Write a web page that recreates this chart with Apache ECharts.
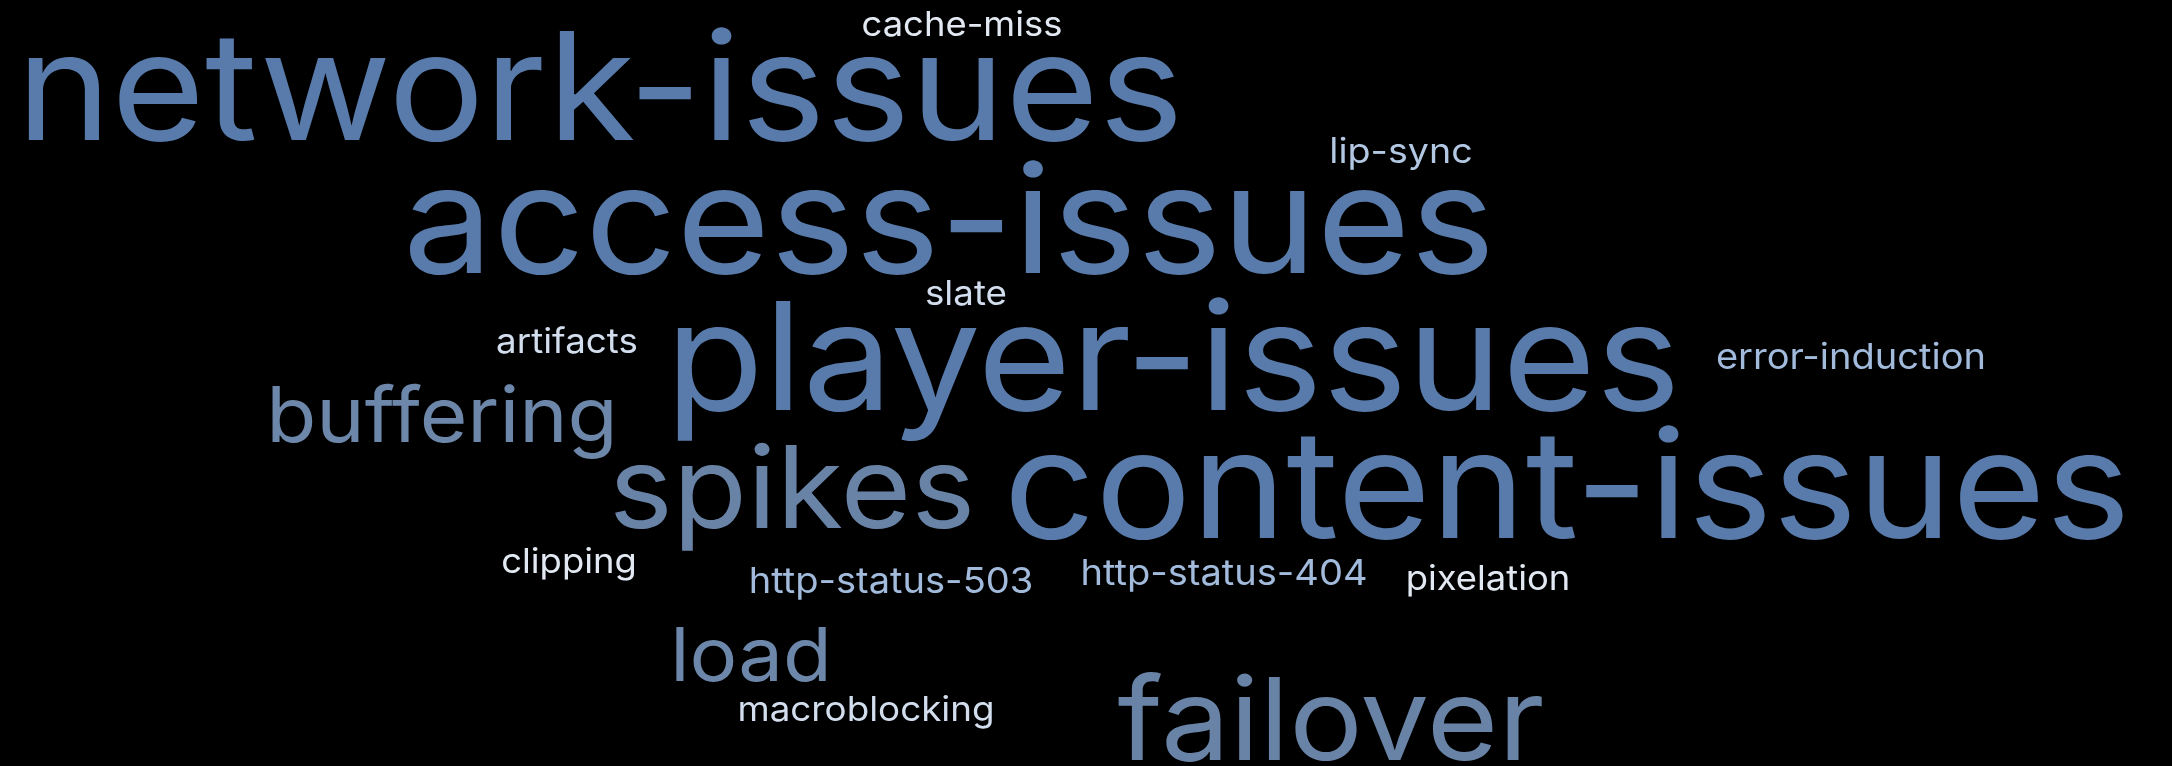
<!DOCTYPE html>
<html>
<head>
<meta charset="utf-8">
<title>word cloud</title>
<script src="https://cdn.jsdelivr.net/npm/echarts@6/dist/echarts.min.js"></script>
<style>
  html, body { margin: 0; padding: 0; background: #000; }
  #chart { width: 2172px; height: 766px; }
</style>
</head>
<body>
<div id="chart"></div>
<script>
// words of the cloud and how often each one came up
var words = ['network-issues', 'access-issues', 'player-issues', 'content-issues',
  'spikes', 'failover', 'buffering', 'load',
  'cache-miss', 'lip-sync', 'slate', 'artifacts', 'error-induction', 'clipping',
  'http-status-503', 'http-status-404', 'pixelation', 'macroblocking'];
var counts = [300, 300, 300, 300,
  207, 210, 113, 108,
  5, 8, 6, 6, 9, 5,
  9, 9, 5, 6];
// where the cloud layout put each word (centre x, baseline y)
var layoutX = [600, 949, 1173, 1567, 792, 1331, 442, 751, 962, 1401, 966, 567, 1851, 569, 891, 1224, 1488, 866];
var layoutY = [140, 273, 410, 538, 528, 760, 442, 681, 36, 163, 305, 353, 369, 573, 593, 585, 590, 721];

var minCount = 5, maxCount = 300;
var minFont = 34, maxFont = 150;
var stretch = 1.07; // the original font runs a bit wider than Inter

function fontSizeOf(c) {
  return minFont + (maxFont - minFont) * (c - minCount) / (maxCount - minCount);
}

// colour goes from near white (rare) to steel blue (frequent)
var colorStops = [[5, '#e2e9f2'], [9, '#a2bbdc'], [108, '#6c87a9'], [210, '#6983a7'], [300, '#587bab']];
function colorOf(c) {
  for (var i = 1; i < colorStops.length; i++) {
    if (c <= colorStops[i][0]) {
      var a = colorStops[i - 1], b = colorStops[i];
      var t = (c - a[0]) / (b[0] - a[0]);
      return echarts.color.lerp(t, [a[1], b[1]]);
    }
  }
  return colorStops[colorStops.length - 1][1];
}

var data = [];
for (var i = 0; i < words.length; i++) {
  data.push([layoutX[i], layoutY[i], counts[i]]);
}

var myChart = echarts.init(document.getElementById('chart'));
var option = {
  backgroundColor: '#000',
  animation: false,
  grid: { left: 0, right: 0, top: 0, bottom: 0 },
  xAxis: { type: 'value', min: 0, max: 2172, show: false },
  yAxis: { type: 'value', min: 0, max: 766, inverse: true, show: false },
  series: [{
    type: 'custom',
    coordinateSystem: 'cartesian2d',
    data: data,
    renderItem: function (params, api) {
      var p = api.coord([api.value(0), api.value(1)]);
      var c = api.value(2);
      var fs = fontSizeOf(c);
      return {
        type: 'text',
        x: p[0],
        y: p[1] - 0.3 * fs,
        scaleX: stretch,
        style: {
          text: words[params.dataIndex],
          fontFamily: 'Inter',
          fontSize: fs,
          fill: colorOf(c),
          align: 'center',
          verticalAlign: 'middle'
        }
      };
    }
  }]
};
myChart.setOption(option);
</script>
</body>
</html>
